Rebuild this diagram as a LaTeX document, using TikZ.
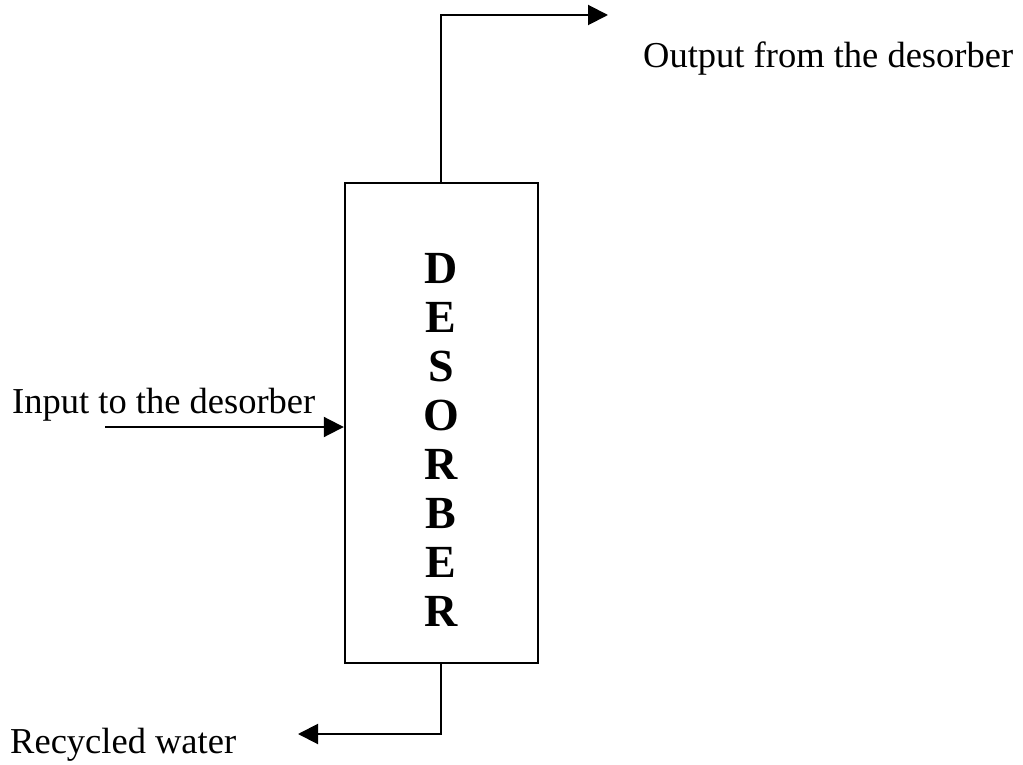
\documentclass[tikz,border=0pt]{standalone}
\usepackage{fontspec}
\setmainfont{Liberation Serif}
\usetikzlibrary{arrows.meta, positioning}
\tikzstyle{arrow} = [draw, -{Triangle[length=20pt, width=20pt]}, line width=2pt]
\tikzstyle{label} = [inner sep=0pt, anchor=base west, font=\fontsize{36.5}{40}\selectfont]
\tikzstyle{letter} = [inner sep=0pt, anchor=base, font=\bfseries\fontsize{46}{50}\selectfont]

\begin{document}
\begin{tikzpicture}[x=1pt, y=-1pt]
		\useasboundingbox (0,0) rectangle (1023,765);
		% column
		\node[draw, line width=2pt, inner sep=0pt, minimum width=193pt, minimum height=480pt] (desorber) at (441.3,423.3) {};
		\foreach \l [count=\i] in {D,E,S,O,R,B,E,R}
			\node[letter] (letter\i) at (441.3, 283+49.1*\i-49.1) {\l};
		% streams
		\coordinate (topTip) at (608,15);
		\coordinate (inStart) at (105,427);
		\coordinate (bottomTip) at (298,734);
		\draw[arrow] (desorber.north) |- (topTip);
		\draw[arrow] (inStart) -- (inStart -| desorber.west);
		\draw[arrow] (desorber.south) |- (bottomTip);
		% labels
		\node[label] (outLabel) at (643,68) {Output from the desorber};
		\node[label] (inLabel) at (12,413) {Input to the desorber};
		\node[label] (waterLabel) at (10,753) {Recycled water};
	\end{tikzpicture}
\end{document}
